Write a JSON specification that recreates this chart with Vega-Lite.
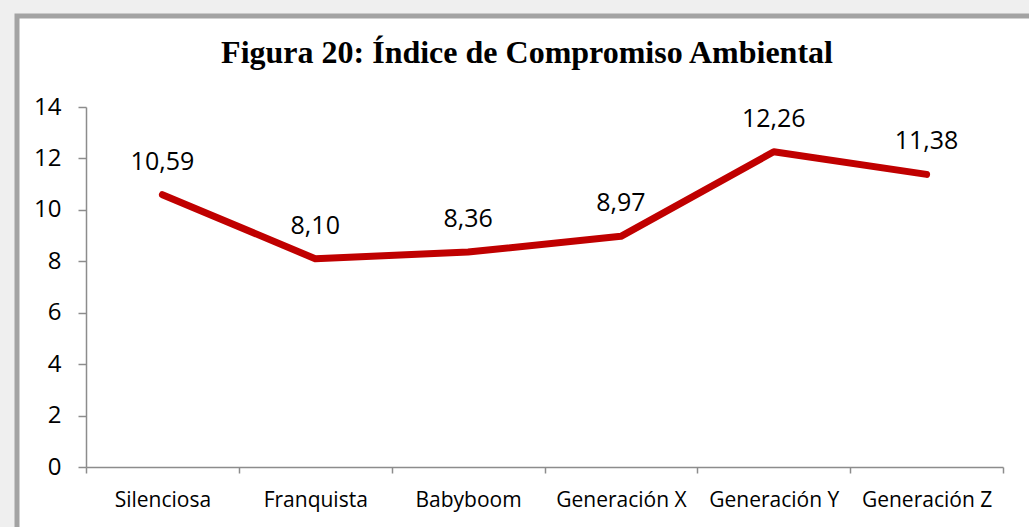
{
  "$schema": "https://vega.github.io/schema/vega-lite/v6.json",
  "autosize": {"type": "none"},
  "padding": {"left": 17, "top": 16, "right": 0, "bottom": 0},
  "width": 1020,
  "height": 520,
  "background": "#efefef",
  "config": {
    "view": {"fill": "white", "stroke": "#a3a3a3", "strokeWidth": 5},
    "locale": {"number": {"decimal": ",", "thousands": ".", "grouping": [3], "currency": ["", " €"]}}
  },
  "title": {
    "text": "Figura 20: Índice de Compromiso Ambiental",
    "font": "Liberation Serif",
    "fontSize": 32,
    "fontWeight": "bold",
    "color": "black",
    "anchor": "middle",
    "baseline": "alphabetic",
    "offset": -79
  },
  "data": {
    "values": [
      {"generacion": "Silenciosa", "indice": 10.59},
      {"generacion": "Franquista", "indice": 8.10},
      {"generacion": "Babyboom", "indice": 8.36},
      {"generacion": "Generación X", "indice": 8.97},
      {"generacion": "Generación Y", "indice": 12.26},
      {"generacion": "Generación Z", "indice": 11.38}
    ]
  },
  "encoding": {
    "x": {
      "field": "generacion",
      "type": "nominal",
      "sort": null,
      "bandPosition": 0.5,
      "scale": {"type": "band", "range": [69, 986], "paddingInner": 0, "paddingOuter": 0},
      "axis": {
        "title": null,
        "orient": "bottom",
        "offset": -69,
        "labelAngle": 0,
        "tickBand": "extent",
        "domainColor": "#8c8c8c",
        "tickColor": "#8c8c8c",
        "domainWidth": 1.5,
        "tickWidth": 1.5,
        "tickSize": 6,
        "labelFont": "Open Sans",
        "labelFontSize": 21,
        "labelColor": "black",
        "labelPadding": 16,
        "grid": false
      }
    },
    "y": {
      "field": "indice",
      "type": "quantitative",
      "scale": {"domain": [0, 14], "range": [451, 91], "nice": false},
      "axis": {
        "title": null,
        "orient": "left",
        "offset": -69,
        "values": [0, 2, 4, 6, 8, 10, 12, 14],
        "domainColor": "#8c8c8c",
        "tickColor": "#8c8c8c",
        "domainWidth": 1.5,
        "tickWidth": 1.5,
        "tickSize": 8,
        "labelFont": "Open Sans",
        "labelFontSize": 24,
        "labelColor": "black",
        "labelPadding": 17,
        "grid": false
      }
    }
  },
  "layer": [
    {
      "mark": {"type": "line", "color": "#C00000", "strokeWidth": 7, "strokeCap": "round", "strokeJoin": "round"}
    },
    {
      "mark": {"type": "text", "font": "Open Sans", "fontSize": 25, "color": "black", "baseline": "alphabetic", "dy": -25},
      "encoding": {"text": {"field": "indice", "type": "quantitative", "format": ".2f"}}
    }
  ]
}
